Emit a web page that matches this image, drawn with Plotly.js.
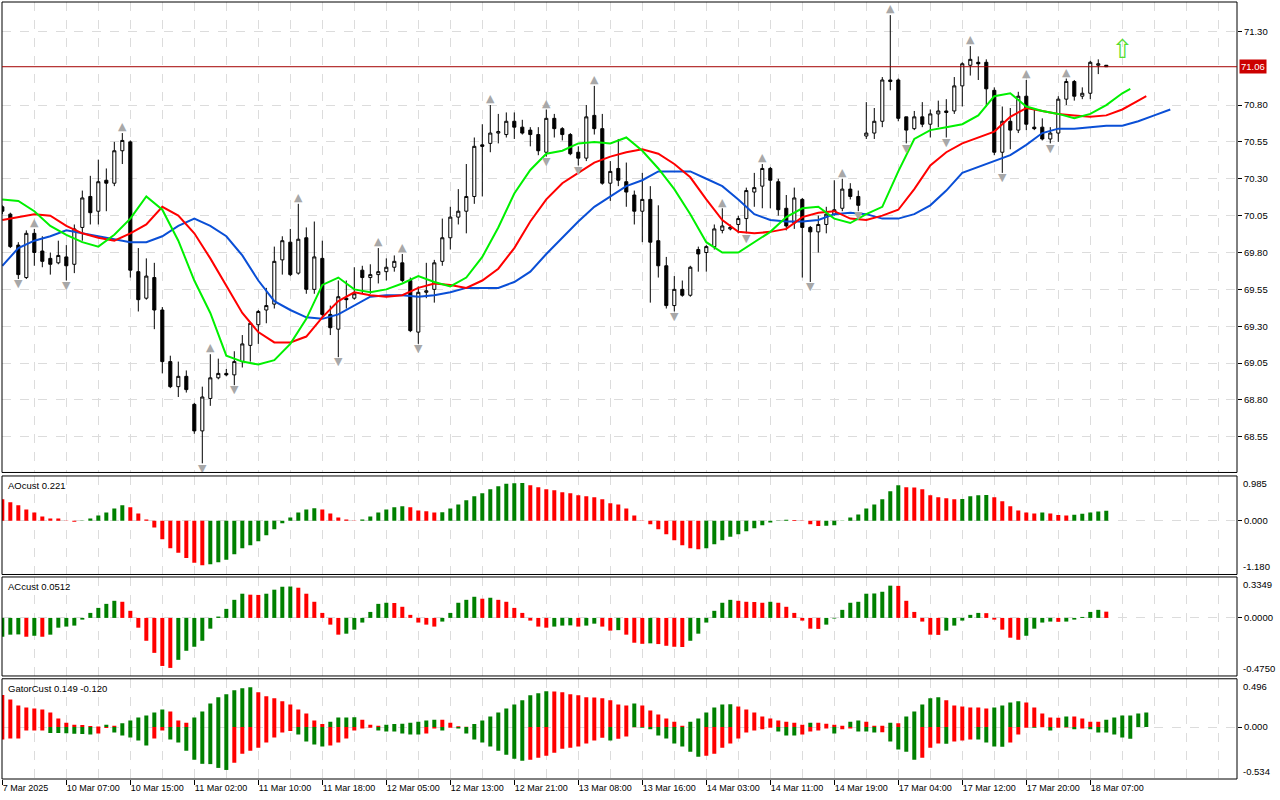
<!DOCTYPE html>
<html>
<head>
<meta charset="utf-8">
<script src="https://cdn.plot.ly/plotly-3.0.1.min.js"></script>
<style>
  html, body { margin: 0; padding: 0; background: #fff; }
  #chart { width: 1280px; height: 800px; }
</style>
</head>
<body>
<div id="chart"></div>
<script>
// H1 bars, 7 Mar 2025 .. 18 Mar 2025 (bar index 0..138)
let open = [
  70.11, 70.06, 69.85, 69.63, 69.93, 69.81, 69.76, 69.73, 69.77, 69.72,
  69.97, 70.18, 70.08, 70.29, 70.27, 70.49, 70.55, 69.67, 69.49, 69.63,
  69.41, 69.06, 68.89, 68.96, 68.77, 68.59, 68.81, 68.95, 68.98, 68.97,
  69.06, 69.17, 69.31, 69.41, 69.45, 69.75, 69.87, 69.66, 69.90, 69.55,
  69.76, 69.38, 69.28, 69.49, 69.49, 69.68, 69.63, 69.65, 69.67, 69.70,
  69.73, 69.61, 69.26, 69.53, 69.55, 69.74, 69.90, 70.04, 70.08, 70.18,
  70.53, 70.54, 70.61, 70.60, 70.69, 70.65, 70.63, 70.60, 70.48, 70.71,
  70.64, 70.60, 70.48, 70.44, 70.73, 70.64, 70.27, 70.37, 70.28, 70.19,
  70.08, 70.16, 69.88, 69.71, 69.44, 69.55, 69.51, 69.82, 69.80, 69.84,
  69.95, 69.96, 69.99, 70.03, 70.21, 70.25, 70.37, 70.28, 70.10, 70.00,
  70.16, 69.97, 69.94, 69.99, 70.06, 70.10, 70.23, 70.18, 70.59, 70.61,
  70.69, 70.97, 70.97, 70.72, 70.64, 70.72, 70.67, 70.74, 70.76, 70.76,
  70.93, 71.07, 71.09, 71.09, 70.90, 70.48, 70.69, 70.63, 70.86, 70.65,
  70.65, 70.57, 70.61, 70.84, 70.96, 70.86, 70.88, 71.07, 71.07
];
let high = [
  70.12, 70.07, 69.87, 69.95, 69.96, 69.91, 69.80, 69.88, 69.85, 69.99,
  70.22, 70.32, 70.43, 70.37, 70.55, 70.61, 70.56, 69.83, 69.76, 69.73,
  69.43, 69.10, 69.06, 69.00, 68.78, 68.89, 69.11, 69.08, 69.01, 69.13,
  69.24, 69.33, 69.41, 69.56, 69.84, 69.91, 69.96, 70.13, 69.97, 70.01,
  69.88, 69.44, 69.61, 69.61, 69.70, 69.71, 69.72, 69.83, 69.76, 69.78,
  69.79, 69.63, 69.57, 69.73, 69.75, 70.03, 70.11, 70.23, 70.40, 70.58,
  70.67, 70.80, 70.74, 70.75, 70.75, 70.70, 70.65, 70.65, 70.77, 70.74,
  70.65, 70.61, 70.52, 70.80, 70.93, 70.74, 70.42, 70.57, 70.41, 70.22,
  70.34, 70.25, 70.12, 69.77, 69.64, 69.61, 69.71, 69.84, 69.85, 69.99,
  70.10, 69.99, 70.05, 70.24, 70.34, 70.40, 70.38, 70.30, 70.19, 70.24,
  70.17, 69.98, 70.05, 70.11, 70.29, 70.30, 70.27, 70.22, 70.82, 70.78,
  70.99, 71.41, 70.98, 70.72, 70.76, 70.82, 70.77, 70.83, 70.84, 70.99,
  71.09, 71.20, 71.13, 71.11, 70.92, 70.79, 70.78, 70.89, 70.97, 70.77,
  70.71, 70.65, 70.86, 70.98, 70.97, 70.92, 71.10, 71.11, 71.07
];
let low = [
  70.06, 69.83, 69.62, 69.62, 69.71, 69.70, 69.65, 69.72, 69.61, 69.66,
  69.88, 69.99, 69.99, 70.08, 70.25, 70.40, 69.63, 69.40, 69.48, 69.28,
  68.98, 68.88, 68.82, 68.85, 68.57, 68.37, 68.76, 68.94, 68.96, 68.90,
  69.02, 69.06, 69.18, 69.32, 69.42, 69.65, 69.64, 69.65, 69.52, 69.52,
  69.35, 69.24, 69.09, 69.42, 69.48, 69.52, 69.52, 69.59, 69.61, 69.67,
  69.60, 69.26, 69.18, 69.49, 69.46, 69.71, 69.82, 69.99, 69.93, 70.13,
  70.18, 70.48, 70.54, 70.58, 70.57, 70.60, 70.52, 70.46, 70.45, 70.58,
  70.56, 70.46, 70.39, 70.42, 70.60, 70.26, 70.15, 70.25, 70.11, 69.99,
  69.87, 69.46, 69.63, 69.42, 69.40, 69.50, 69.50, 69.67, 69.67, 69.82,
  69.93, 69.95, 69.93, 69.93, 70.11, 70.10, 70.10, 70.05, 69.95, 69.96,
  69.63, 69.60, 69.80, 69.93, 70.05, 70.08, 70.16, 70.08, 70.57, 70.57,
  70.65, 70.90, 70.69, 70.54, 70.63, 70.65, 70.58, 70.65, 70.58, 70.74,
  70.79, 71.00, 70.97, 70.79, 70.46, 70.34, 70.50, 70.61, 70.63, 70.63,
  70.56, 70.54, 70.55, 70.80, 70.83, 70.84, 70.84, 71.01, 71.06
];
let close = [
  70.08, 69.84, 69.65, 69.93, 69.80, 69.74, 69.72, 69.78, 69.71, 69.96,
  70.17, 70.07, 70.28, 70.27, 70.49, 70.56, 69.68, 69.48, 69.64, 69.41,
  69.06, 68.89, 68.96, 68.87, 68.59, 68.82, 68.95, 68.98, 68.97, 69.06,
  69.18, 69.32, 69.40, 69.44, 69.74, 69.88, 69.65, 69.89, 69.55, 69.77,
  69.38, 69.29, 69.50, 69.48, 69.52, 69.63, 69.65, 69.67, 69.70, 69.74,
  69.61, 69.27, 69.53, 69.54, 69.73, 69.90, 70.04, 70.08, 70.18, 70.52,
  70.52, 70.61, 70.62, 70.69, 70.65, 70.61, 70.60, 70.49, 70.71, 70.64,
  70.60, 70.47, 70.44, 70.72, 70.64, 70.27, 70.35, 70.29, 70.21, 70.08,
  70.16, 69.87, 69.71, 69.44, 69.55, 69.51, 69.70, 69.79, 69.84, 69.96,
  69.98, 69.97, 70.03, 70.22, 70.24, 70.37, 70.29, 70.09, 69.98, 70.17,
  69.97, 69.94, 69.99, 70.06, 70.09, 70.23, 70.18, 70.12, 70.61, 70.69,
  70.97, 70.96, 70.71, 70.63, 70.72, 70.67, 70.74, 70.76, 70.75, 70.93,
  71.08, 71.11, 71.08, 70.91, 70.48, 70.69, 70.63, 70.86, 70.67, 70.64,
  70.57, 70.61, 70.84, 70.96, 70.86, 70.88, 71.09, 71.08, 71.06
];

// alligator lines, read every second bar (shifted into the future)
let lipsBar = [0,2,4,6,8,10,12,14,16,18,20,22,24,26,28,30,32,34,36,38,40,42,44,46,48,50,52,54,56,58,60,62,64,66,68,70,72,74,76,78,80,82,84,86,88,90,92,94,96,98,100,102,104,106,108,110,112,114,116,118,120,122,124,126,128,130,132,134,136,138,140,141];
let lips = [
  70.16, 70.15, 70.08, 69.98, 69.92, 69.87, 69.84, 69.92, 70.03, 70.18,
  70.09, 69.88, 69.61, 69.39, 69.10, 69.06, 69.04, 69.07, 69.18, 69.35,
  69.58, 69.63, 69.55, 69.53, 69.55, 69.59, 69.64, 69.60, 69.57, 69.63,
  69.77, 69.97, 70.20, 70.36, 70.47, 70.49, 70.54, 70.55, 70.54, 70.58,
  70.49, 70.37, 70.23, 70.06, 69.87, 69.80, 69.80, 69.87, 69.94, 70.04,
  70.10, 70.11, 70.03, 70.00, 70.06, 70.11, 70.35, 70.57, 70.63, 70.65,
  70.67, 70.73, 70.86, 70.88, 70.79, 70.76, 70.74, 70.71, 70.74, 70.80,
  70.88, 70.91
];
let teethBar = [0,2,4,6,8,10,12,14,16,18,20,22,24,26,28,30,32,34,36,38,40,42,44,46,48,50,52,54,56,58,60,62,64,66,68,70,72,74,76,78,80,82,84,86,88,90,92,94,96,98,100,102,104,106,108,110,112,114,116,118,120,122,124,126,128,130,132,134,136,138,140,142,143];
let teeth = [
  70.02, 70.04, 70.06, 70.05, 69.98, 69.93, 69.90, 69.88, 69.93, 69.99,
  70.11, 70.05, 69.93, 69.76, 69.57, 69.39, 69.26, 69.19, 69.19, 69.23,
  69.36, 69.47, 69.53, 69.51, 69.50, 69.51, 69.56, 69.59, 69.58, 69.56,
  69.61, 69.69, 69.83, 70.01, 70.16, 70.27, 70.34, 70.41, 70.45, 70.48,
  70.50, 70.47, 70.40, 70.31, 70.16, 70.02, 69.94, 69.93, 69.94, 69.96,
  70.04, 70.07, 70.08, 70.03, 70.02, 70.05, 70.09, 70.23, 70.39, 70.48,
  70.54, 70.58, 70.62, 70.72, 70.78, 70.76, 70.74, 70.73, 70.72, 70.73,
  70.77, 70.83, 70.86
];
let jawBar = [0,2,4,6,8,10,12,14,16,18,20,22,24,26,28,30,32,34,36,38,40,42,44,46,48,50,52,54,56,58,60,62,64,66,68,70,72,74,76,78,80,82,84,86,88,90,92,94,96,98,100,102,104,106,108,110,112,114,116,118,120,122,124,126,128,130,132,134,136,138,140,142,144,146];
let jaw = [
  69.71, 69.83, 69.88, 69.91, 69.95, 69.93, 69.91, 69.89, 69.87, 69.87,
  69.91, 69.98, 70.03, 69.98, 69.91, 69.78, 69.61, 69.47, 69.41, 69.36,
  69.35, 69.38, 69.44, 69.50, 69.51, 69.51, 69.50, 69.51, 69.53, 69.56,
  69.56, 69.56, 69.60, 69.67, 69.79, 69.90, 70.01, 70.11, 70.18, 70.25,
  70.29, 70.35, 70.35, 70.35, 70.30, 70.25, 70.16, 70.06, 70.02, 70.01,
  70.01, 70.02, 70.06, 70.07, 70.06, 70.03, 70.03, 70.06, 70.12, 70.22,
  70.34, 70.38, 70.42, 70.46, 70.53, 70.61, 70.64, 70.64, 70.65, 70.66,
  70.66, 70.69, 70.73, 70.77
];

// fractal bars
let fractalUp = [4, 15, 26, 37, 47, 50, 61, 68, 74, 90, 95, 105, 111, 121, 128, 133];
let fractalDown = [2, 8, 25, 29, 42, 52, 68, 72, 84, 93, 101, 107, 113, 118, 125, 131];
let signalBar = [140];
let signalPrice = [71.16];

let ao = [
  0.471, 0.405, 0.339, 0.250, 0.184, 0.096, 0.052, 0.050, 0.007, -0.022,
  0.007, 0.052, 0.117, 0.184, 0.272, 0.339, 0.295, 0.162, 0.029, -0.147,
  -0.405, -0.603, -0.700, -0.817, -0.920, -0.979, -0.957, -0.913, -0.854, -0.736,
  -0.603, -0.538, -0.450, -0.317, -0.184, -0.052, 0.074, 0.184, 0.250, 0.276,
  0.250, 0.162, 0.074, 0.029, -0.005, 0.029, 0.096, 0.184, 0.250, 0.295,
  0.317, 0.295, 0.228, 0.207, 0.184, 0.190, 0.272, 0.360, 0.450, 0.538,
  0.603, 0.692, 0.758, 0.815, 0.824, 0.830, 0.781, 0.736, 0.692, 0.670,
  0.626, 0.603, 0.560, 0.538, 0.515, 0.471, 0.383, 0.360, 0.272, 0.117,
  0.007, -0.074, -0.184, -0.295, -0.427, -0.538, -0.603, -0.626, -0.603, -0.515,
  -0.427, -0.353, -0.295, -0.228, -0.162, -0.096, -0.036, -0.007, 0.022, 0.018,
  -0.007, -0.074, -0.117, -0.110, -0.096, 0.005, 0.074, 0.140, 0.272, 0.360,
  0.471, 0.648, 0.781, 0.736, 0.730, 0.692, 0.560, 0.515, 0.493, 0.471,
  0.480, 0.538, 0.560, 0.565, 0.515, 0.427, 0.317, 0.228, 0.184, 0.162,
  0.184, 0.160, 0.125, 0.117, 0.135, 0.155, 0.180, 0.205, 0.221
];
let ac = [
  -0.154, -0.137, -0.135, -0.154, -0.146, -0.154, -0.137, -0.080, -0.071, -0.063,
  -0.014, 0.041, 0.082, 0.115, 0.140, 0.132, 0.058, -0.080, -0.187, -0.286,
  -0.393, -0.409, -0.343, -0.269, -0.236, -0.187, -0.088, 0.011, 0.074, 0.148,
  0.198, 0.190, 0.188, 0.198, 0.231, 0.255, 0.257, 0.247, 0.198, 0.132,
  0.041, -0.055, -0.137, -0.129, -0.096, -0.038, 0.049, 0.115, 0.124, 0.122,
  0.091, 0.025, -0.038, -0.055, -0.071, -0.030, 0.041, 0.124, 0.148, 0.173,
  0.157, 0.165, 0.148, 0.132, 0.082, 0.041, -0.022, -0.071, -0.080, -0.071,
  -0.063, -0.061, -0.071, -0.063, -0.047, -0.071, -0.104, -0.100, -0.137, -0.203,
  -0.212, -0.208, -0.214, -0.228, -0.236, -0.238, -0.187, -0.129, -0.038, 0.058,
  0.124, 0.148, 0.140, 0.132, 0.130, 0.124, 0.132, 0.124, 0.091, 0.041,
  -0.022, -0.088, -0.090, -0.055, -0.005, 0.066, 0.124, 0.132, 0.198, 0.200,
  0.214, 0.264, 0.262, 0.140, 0.049, -0.030, -0.137, -0.139, -0.104, -0.063,
  -0.022, 0.025, 0.041, 0.039, -0.014, -0.096, -0.162, -0.179, -0.146, -0.088,
  -0.038, -0.030, -0.032, -0.030, -0.014, 0.008, 0.049, 0.066, 0.0512
];
let gatorUp = [
  0.330, 0.284, 0.222, 0.201, 0.191, 0.180, 0.149, 0.087, 0.045, 0.024,
  0.020, 0.010, 0.005, 0.024, 0.014, 0.040, 0.066, 0.097, 0.118, 0.149,
  0.180, 0.160, 0.066, 0.045, 0.097, 0.160, 0.243, 0.305, 0.336, 0.378,
  0.399, 0.409, 0.357, 0.316, 0.295, 0.264, 0.232, 0.180, 0.139, 0.066,
  0.030, 0.055, 0.097, 0.099, 0.101, 0.076, 0.024, 0.014, 0.024, 0.030,
  0.035, 0.045, 0.055, 0.066, 0.076, 0.075, 0.045, 0.008, 0.004, 0.030,
  0.066, 0.108, 0.149, 0.191, 0.232, 0.274, 0.326, 0.347, 0.368, 0.366,
  0.357, 0.336, 0.326, 0.305, 0.303, 0.295, 0.274, 0.232, 0.222, 0.243,
  0.222, 0.170, 0.128, 0.087, 0.055, 0.014, 0.055, 0.087, 0.149, 0.201,
  0.232, 0.234, 0.212, 0.180, 0.149, 0.108, 0.087, 0.066, 0.055, 0.045,
  0.024, 0.045, 0.044, 0.035, 0.024, 0.014, 0.055, 0.066, 0.055, 0.014,
  0.013, 0.045, 0.040, 0.108, 0.160, 0.232, 0.295, 0.305, 0.274, 0.222,
  0.212, 0.201, 0.200, 0.191, 0.201, 0.222, 0.253, 0.264, 0.253, 0.201,
  0.139, 0.097, 0.096, 0.108, 0.107, 0.087, 0.055, 0.054, 0.076, 0.097,
  0.118, 0.119, 0.139, 0.149
];
let gatorDown = [
  -0.128, -0.118, -0.118, -0.035, -0.035, -0.035, -0.060, -0.062, -0.064, -0.070,
  -0.072, -0.076, -0.066, -0.010, -0.055, -0.087, -0.108, -0.139, -0.191, -0.118,
  -0.035, -0.128, -0.160, -0.243, -0.336, -0.378, -0.381, -0.420, -0.441, -0.368,
  -0.274, -0.243, -0.212, -0.160, -0.108, -0.055, -0.040, -0.076, -0.149, -0.180,
  -0.201, -0.191, -0.160, -0.118, -0.035, -0.014, -0.007, -0.035, -0.045, -0.046,
  -0.066, -0.076, -0.077, -0.066, -0.014, -0.035, -0.007, -0.014, -0.066, -0.128,
  -0.160, -0.201, -0.243, -0.284, -0.326, -0.347, -0.336, -0.316, -0.295, -0.264,
  -0.222, -0.212, -0.201, -0.170, -0.139, -0.110, -0.139, -0.120, -0.097, -0.003,
  -0.007, -0.024, -0.087, -0.118, -0.170, -0.201, -0.253, -0.305, -0.295, -0.274,
  -0.212, -0.170, -0.118, -0.055, -0.035, -0.024, -0.007, -0.045, -0.087, -0.088,
  -0.076, -0.045, -0.035, -0.014, -0.066, -0.024, -0.014, -0.045, -0.046, -0.055,
  -0.054, -0.149, -0.232, -0.253, -0.336, -0.316, -0.212, -0.170, -0.171, -0.149,
  -0.139, -0.128, -0.129, -0.160, -0.201, -0.202, -0.160, -0.076, -0.007, -0.008,
  -0.003, -0.035, -0.007, -0.005, -0.024, -0.014, -0.024, -0.055, -0.056, -0.076,
  -0.108, -0.120
];

let xTickBars = [0, 8, 16, 24, 32, 40, 48, 56, 64, 72, 80, 88, 96, 104, 112, 120, 128, 136];
let xTickText = ['7 Mar 2025', '10 Mar 07:00', '10 Mar 15:00', '11 Mar 02:00', '11 Mar 10:00',
  '11 Mar 18:00', '12 Mar 05:00', '12 Mar 13:00', '12 Mar 21:00', '13 Mar 08:00',
  '13 Mar 16:00', '14 Mar 03:00', '14 Mar 11:00', '14 Mar 19:00', '17 Mar 04:00',
  '17 Mar 12:00', '17 Mar 20:00', '18 Mar 07:00'];
let priceTicks = [68.55, 68.80, 69.05, 69.30, 69.55, 69.80, 70.05, 70.30, 70.55, 70.80, 71.30];
let priceRange = [68.308, 71.499];
let aoRange = [-1.18, 0.985];
let acRange = [-0.475, 0.3349];
let gatorRange = [-0.534, 0.496];

const FONT = 'Liberation Sans, Arial, sans-serif';
const FSIZE = 9.5;
const GREEN = '#008000';
const RED = '#ff0000';
const GRID = '#dcdcdc';

// histogram colour: green when value grows against previous bar
function trendColors(vals, firstColor) {
  return vals.map(function(v, i) {
    if(i === 0) {
      return firstColor;
    }
    return v > vals[i - 1] ? GREEN : RED;
  });
}

function bars(arr) {
  return arr.map(function(v, i) { return i; });
}

let domains = {
  main: [0.3945, 1],
  ao: [0.2632, 0.39],
  ac: [0.1326, 0.26],
  gator: [0, 0.129]
};

let lastPrice = close[close.length - 1];

let traces = [
  {
    type: 'candlestick',
    x: bars(open), open: open, high: high, low: low, close: close,
    xaxis: 'x', yaxis: 'y',
    increasing: {line: {color: '#000', width: 1}, fillcolor: '#fff'},
    decreasing: {line: {color: '#000', width: 1}, fillcolor: '#000'},
    whiskerwidth: 0,
    hoverinfo: 'skip'
  },
  {
    type: 'scatter', mode: 'lines', x: jawBar, y: jaw,
    line: {color: '#0a4fd6', width: 2}, xaxis: 'x', yaxis: 'y'
  },
  {
    type: 'scatter', mode: 'lines', x: teethBar, y: teeth,
    line: {color: '#ff0000', width: 2}, xaxis: 'x', yaxis: 'y'
  },
  {
    type: 'scatter', mode: 'lines', x: lipsBar, y: lips,
    line: {color: '#00f000', width: 2}, xaxis: 'x', yaxis: 'y'
  },
  {
    type: 'scatter', mode: 'text',
    x: fractalUp, y: fractalUp.map(function(i) { return high[i]; }),
    text: fractalUp.map(function() { return '▲'; }),
    textposition: 'top center',
    textfont: {family: 'DejaVu Sans', size: 11, color: '#a8a8a8'},
    xaxis: 'x', yaxis: 'y'
  },
  {
    type: 'scatter', mode: 'text',
    x: fractalDown, y: fractalDown.map(function(i) { return low[i]; }),
    text: fractalDown.map(function() { return '▼'; }),
    textposition: 'bottom center',
    textfont: {family: 'DejaVu Sans', size: 11, color: '#a8a8a8'},
    xaxis: 'x', yaxis: 'y'
  },
  {
    type: 'scatter', mode: 'text', x: signalBar, y: signalPrice,
    text: ['⇧'], textposition: 'middle center',
    textfont: {family: 'DejaVu Sans', size: 26, color: '#55dd33'},
    xaxis: 'x', yaxis: 'y'
  },
  {
    type: 'bar', x: bars(ao), y: ao, width: 0.5,
    marker: {color: trendColors(ao, RED), line: {width: 0}},
    xaxis: 'x', yaxis: 'y2'
  },
  {
    type: 'bar', x: bars(ac), y: ac, width: 0.5,
    marker: {color: trendColors(ac, GREEN), line: {width: 0}},
    xaxis: 'x', yaxis: 'y3'
  },
  {
    type: 'bar', x: bars(gatorUp), y: gatorUp, width: 0.5,
    marker: {color: trendColors(gatorUp, RED), line: {width: 0}},
    xaxis: 'x', yaxis: 'y4'
  },
  {
    type: 'bar', x: bars(gatorDown), y: gatorDown, width: 0.5,
    marker: {color: trendColors(gatorDown.map(Math.abs), RED), line: {width: 0}},
    xaxis: 'x', yaxis: 'y4'
  }
];

function subAxis(domain, range, zeroText) {
  return {
    domain: domain, range: range, anchor: 'x', side: 'right',
    tickvals: [0], ticktext: [zeroText],
    ticks: 'outside', ticklen: 4, tickcolor: '#000',
    tickfont: {family: FONT, size: FSIZE, color: '#000'},
    showgrid: true, gridcolor: GRID, griddash: 'dash',
    zeroline: false, showline: false, fixedrange: true
  };
}

function border(domain) {
  return {
    type: 'rect', xref: 'paper', yref: 'paper',
    x0: 0, x1: 1, y0: domain[0], y1: domain[1],
    line: {color: '#000', width: 1}, fillcolor: 'rgba(0,0,0,0)', layer: 'above'
  };
}

function edgeLabel(yref, value, digits, anchor) {
  return {
    xref: 'paper', x: 1, xanchor: 'left', xshift: 4,
    yref: yref, y: value, yanchor: anchor,
    text: value.toFixed(digits), showarrow: false,
    font: {family: FONT, size: FSIZE, color: '#000'}
  };
}

function panelTitle(domain, text) {
  return {
    xref: 'paper', x: 0.003, xanchor: 'left',
    yref: 'paper', y: domain[1], yanchor: 'top', yshift: -2,
    text: text, showarrow: false,
    font: {family: FONT, size: FSIZE, color: '#000'}
  };
}

let layout = {
  width: 1280, height: 800,
  margin: {l: 2, r: 43, t: 2, b: 21},
  paper_bgcolor: '#fff', plot_bgcolor: '#fff',
  showlegend: false,
  barmode: 'overlay',
  boxgap: 0.45,
  xaxis: {
    range: [-0.04, 154.34], anchor: 'y4',
    tickvals: xTickBars, ticktext: xTickText, tickangle: 0,
    ticks: 'outside', ticklen: 5, tickcolor: '#000',
    ticklabelposition: 'outside right',
    tickfont: {family: FONT, size: 9, color: '#000'},
    showgrid: true, gridcolor: GRID, griddash: 'dash',
    minor: {tickmode: 'linear', tick0: 0, dtick: 4, showgrid: true, gridcolor: GRID, griddash: 'dash', ticks: ''},
    zeroline: false, showline: false,
    rangeslider: {visible: false}, fixedrange: true
  },
  yaxis: {
    domain: domains.main, range: priceRange, anchor: 'x', side: 'right',
    tickvals: priceTicks, ticktext: priceTicks.map(function(v) { return v.toFixed(2); }),
    ticks: 'outside', ticklen: 4, tickcolor: '#000',
    tickfont: {family: FONT, size: FSIZE, color: '#000'},
    showgrid: true, gridcolor: GRID, griddash: 'dash',
    zeroline: false, showline: false, fixedrange: true
  },
  yaxis2: subAxis(domains.ao, aoRange, '0.000'),
  yaxis3: subAxis(domains.ac, acRange, '0.0000'),
  yaxis4: subAxis(domains.gator, gatorRange, '0.000'),
  shapes: [
    border(domains.main), border(domains.ao), border(domains.ac), border(domains.gator),
    {
      type: 'line', xref: 'paper', x0: 0, x1: 1, yref: 'y', y0: lastPrice, y1: lastPrice,
      line: {color: '#a30000', width: 1}
    }
  ],
  annotations: [
    {
      xref: 'paper', x: 1, xanchor: 'left', xshift: 2,
      yref: 'y', y: lastPrice, yanchor: 'middle',
      text: lastPrice.toFixed(2), showarrow: false,
      bgcolor: '#cc0000', borderpad: 1,
      font: {family: FONT, size: FSIZE, color: '#fff'}
    },
    panelTitle(domains.ao, 'AOcust ' + ao[ao.length - 1].toFixed(3)),
    panelTitle(domains.ac, 'ACcust ' + ac[ac.length - 1].toFixed(4)),
    panelTitle(domains.gator, 'GatorCust ' + gatorUp[gatorUp.length - 1].toFixed(3) + ' ' + gatorDown[gatorDown.length - 1].toFixed(3)),
    edgeLabel('y2', aoRange[1], 3, 'top'), edgeLabel('y2', aoRange[0], 3, 'bottom'),
    edgeLabel('y3', acRange[1], 4, 'top'), edgeLabel('y3', acRange[0], 4, 'bottom'),
    edgeLabel('y4', gatorRange[1], 3, 'top'), edgeLabel('y4', gatorRange[0], 3, 'bottom')
  ]
};

Plotly.newPlot('chart', traces, layout, {displayModeBar: false, staticPlot: true});
</script>
</body>
</html>
